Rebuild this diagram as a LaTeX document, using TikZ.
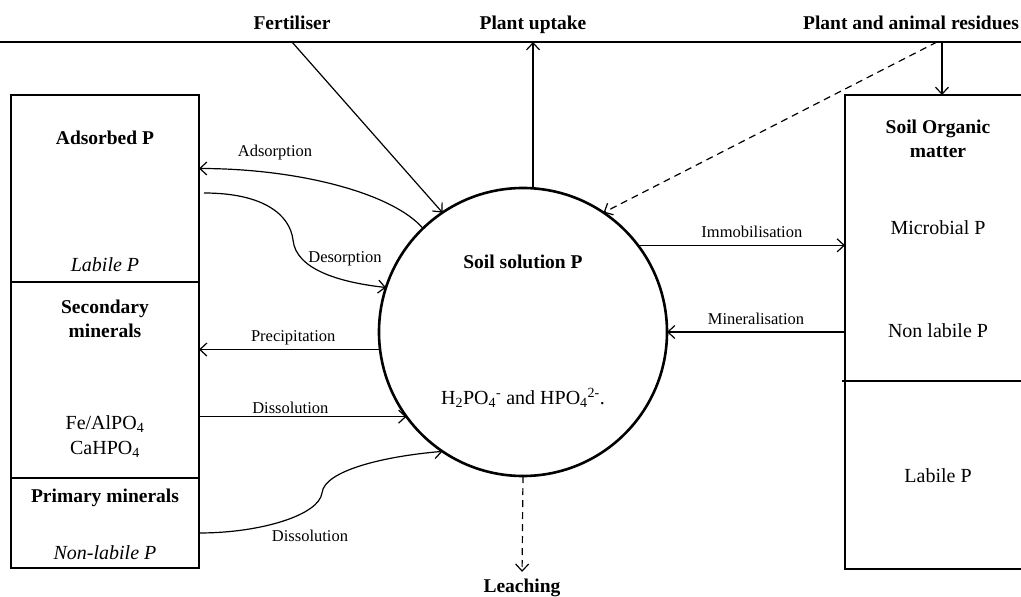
\documentclass[tikz,border=0pt]{standalone}
\usepackage{fontspec}
\setmainfont{Liberation Serif}
\usetikzlibrary{arrows.meta,calc}
\tikzset{
  >={Straight Barb[length=7pt,width=13pt]},
  flow/.style={->,line width=1.2pt},
  leakflow/.style={flow,dash pattern=on 7pt off 5pt},
  pool/.style={rectangle,draw,line width=2.6pt,inner sep=0pt,outer sep=0pt,anchor=north west},
  wall/.style={line width=2.6pt},
  solution/.style={circle,draw,line width=2.6pt,minimum size=288pt,inner sep=0pt,outer sep=0pt},
  head/.style={font=\fontsize{19.5}{22}\selectfont\bfseries,inner sep=1pt},
  boxtitle/.style={font=\fontsize{19.5}{24}\selectfont\bfseries,align=center,inner sep=1pt},
  boxtext/.style={font=\fontsize{20}{25}\selectfont,align=center,inner sep=1pt},
  boxnote/.style={font=\fontsize{20}{25}\selectfont\itshape,align=center,inner sep=1pt},
  flowlabel/.style={font=\fontsize{16.5}{19}\selectfont,inner sep=1pt}
}
\begin{document}
\begin{tikzpicture}[x=1pt,y=1pt]
  \useasboundingbox (0,0) rectangle (1021,-597);
  % soil surface and what crosses it
  \coordinate (sl) at (0,-42);
  \coordinate (sr) at (1021,-42);
  \draw[line width=2pt] (sl) -- (sr);
  \node[head,anchor=base] (fert) at (292,-30) {Fertiliser};
  \node[head,anchor=base] (uptake) at (533,-30) {Plant uptake};
  \node[head,anchor=base] (resid) at (911,-30) {Plant and animal residues};

  % inorganic pools
  \node[pool,minimum width=188pt,minimum height=187pt] (ads) at (11,-95) {};
  \node[pool,minimum width=188pt,minimum height=196pt] (sec) at (11,-282) {};
  \node[pool,minimum width=188pt,minimum height=90pt] (prim) at (11,-478) {};
  \node[boxtitle] (adsT) at (105,-138) {Adsorbed P};
  \node[boxnote] (adsN) at (105,-265) {Labile P};
  \node[boxtitle] (secT) at (105,-319) {Secondary\\minerals};
  \node[boxtext] (secN) at (105,-437) {Fe/AlPO\textsubscript{4}\\CaHPO\textsubscript{4}};
  \node[boxtitle] (primT) at (105,-498) {Primary minerals};
  \node[boxnote] (primN) at (105,-553) {Non-labile P};

  % organic pools (open on the right, cut by the page edge)
  \node[pool,draw=none,minimum width=176pt,minimum height=286pt] (som) at (845,-95) {};
  \node[pool,draw=none,minimum width=176pt,minimum height=188pt] (orglab) at (845,-381) {};
  \draw[wall] (som.north east) -- (som.north west) -- (orglab.south west) -- (orglab.south east);
  \draw[wall] ([xshift=-3pt]orglab.north west) -- (orglab.north east);
  \node[boxtitle] (somT) at (938,-139) {Soil Organic\\matter};
  \node[boxtext] (micro) at (938,-228) {Microbial P};
  \node[boxtext] (nonlab) at (938,-331) {Non labile P};
  \node[boxtext] (lab) at (938,-476) {Labile P};

  % soil solution
  \node[solution] (sol) at (523,-332) {};
  \node[boxtitle] (solT) at (523,-262) {Soil solution P};
  \node[boxtext] (ions) at (523,-398) {H\textsubscript{2}PO\textsubscript{4}\textsuperscript{-} and HPO\textsubscript{4}\textsuperscript{2-}.};
  \node[head] (leach) at (522,-588) {Leaching};

  % fluxes across the surface
  \coordinate (drop) at (942,-95);
  \coordinate (resfall) at (937,-42);
  \draw[flow] (fert |- sl) -- (sol.124);
  \draw[flow] (sol.86) -- (sol.86 |- sl);
  \draw[flow] (drop |- sl) -- (drop);
  \draw[leakflow] (resfall) -- (sol.56);
  \draw[leakflow,shorten >=6pt] (sol.south) -- (leach.north);

  % exchange with inorganic pools
  \draw[flow] (sol.134) .. controls +(-30,35) and +(100,0) .. ([yshift=20pt]ads.east);
  \node[flowlabel] (adsL) at (275,-153) {Adsorption};
  \draw[flow] ([xshift=5pt,yshift=-4.5pt]ads.east) .. controls +(60,0) and +(-3,25) .. (293,-240)
    .. controls +(3,-30) and +(-45,5) .. (sol.162);
  \node[flowlabel] (desL) at (345,-259) {Desorption};
  \draw[flow] (sol.187) -- node[flowlabel,above=3pt,pos=0.48] {Precipitation} (sol.187 -| sec.east);
  \draw[flow] (sol.216 -| sec.east) -- node[flowlabel,above=1pt,pos=0.44] {Dissolution} (sol.216);
  \draw[flow] ([yshift=-10pt]prim.east) .. controls +(62,0) and +(-3,-22) .. (322,-493)
    .. controls +(2,22) and +(-60,-5) .. (sol.236);
  \node[flowlabel] (dissL) at (310,-536) {Dissolution};

  % exchange with organic pools
  \draw[flow] (sol.37) -- node[flowlabel,above=6pt,pos=0.55] {Immobilisation} (sol.37 -| som.west);
  \draw[flow] (sol.east -| som.west) -- node[flowlabel,above=6pt] {Mineralisation} (sol.east);
\end{tikzpicture}
\end{document}
